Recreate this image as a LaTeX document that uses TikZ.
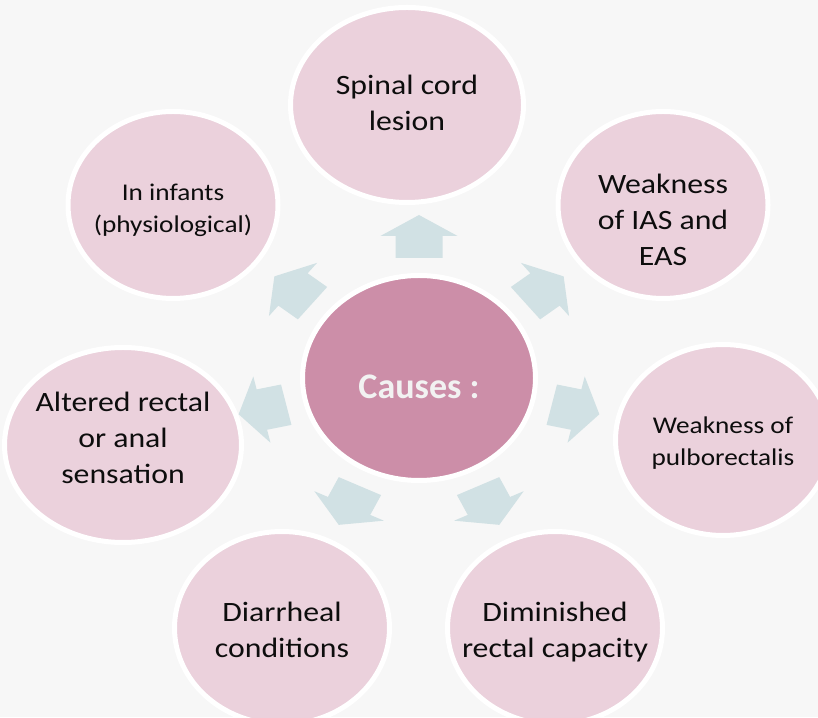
\documentclass[tikz,border=0pt]{standalone}
\usepackage{fontspec}
\setmainfont{Carlito}[FakeStretch=1.135]
\newfontfamily\hubfont{Carlito}
\usetikzlibrary{shapes.geometric}

\definecolor{bggray}{HTML}{F7F7F7}
\definecolor{petalpink}{HTML}{EBD1DC}
\definecolor{hubpink}{HTML}{CC8EA8}
\definecolor{arrowblue}{HTML}{D1E1E4}
\definecolor{hubtext}{HTML}{F2F2F2}

% lines of a cause, lifted by #1 inside its circle
\newcommand{\causelines}[2]{\raisebox{#1}[0pt][0pt]{\begin{tabular}{@{}c@{}}#2\end{tabular}}}

\begin{document}
\begin{tikzpicture}[x=1pt, y=1pt,
        petal/.style={ellipse, fill=petalpink, draw=white, line width=5pt,
            inner sep=0pt, inner xsep=-25pt, text=black!95},
        bigtext/.style={font=\fontsize{28}{36}\selectfont},
        smalltext/.style={font=\fontsize{24}{32}\selectfont}]
        % Draw the background
        \useasboundingbox (0,0) rectangle (818,717);
        \clip (0,0) rectangle (818,717);
        \fill[bggray] (0,0) rectangle (818,717);

        % Draw the hub
        \node[ellipse, fill=hubpink, draw=white, line width=5pt, inner sep=0pt,
            minimum width=233pt, minimum height=205pt, text=hubtext,
            font=\hubfont\bfseries\fontsize{36}{40}\selectfont,
            text height=41pt, text depth=0pt] (cause) at (419,339) {Causes :};

        % Draw the causes round the hub
        \node[petal, bigtext, minimum width=233pt, minimum height=195pt] (spinal) at (407,612) {\causelines{-6.5pt}{Spinal cord\\lesion}};
        \node[petal, bigtext, minimum width=210pt, minimum height=187pt] (ias) at (663,512) {\causelines{-23.5pt}{Weakness\\of IAS and\\EAS}};
        \node[petal, smalltext, minimum width=215pt, minimum height=191pt] (pulbo) at (723,277) {\causelines{-9pt}{Weakness of\\pulborectalis}};
        \node[petal, bigtext, minimum width=215pt, minimum height=193pt] (diminished) at (555,89) {\causelines{-10.5pt}{Diminished\\rectal capacity}};
        \node[petal, bigtext, minimum width=215pt, minimum height=193pt] (diarrheal) at (282,89) {\causelines{-10.5pt}{Diarrheal\\conditions}};
        \node[petal, bigtext, minimum width=237pt, minimum height=195pt] (altered) at (123,272) {\causelines{-1.5pt}{Altered rectal\\or anal\\sensation}};
        \node[petal, smalltext, minimum width=210pt, minimum height=187pt] (infants) at (173,512) {\causelines{-11.5pt}{In infants\\(physiological)}};

        % Draw the block arrows
        \begin{scope}[shift={(cause.center)}, xscale=1.135]
            \foreach \k in {0,...,6}
                \fill[arrowblue, rotate=90-\k*51.4286] (120,-20.7) -- (142,-20.7) -- (142,-34) -- (163,0)
                    -- (142,34) -- (142,20.7) -- (120,20.7) -- cycle;
        \end{scope}
\end{tikzpicture}
\end{document}
